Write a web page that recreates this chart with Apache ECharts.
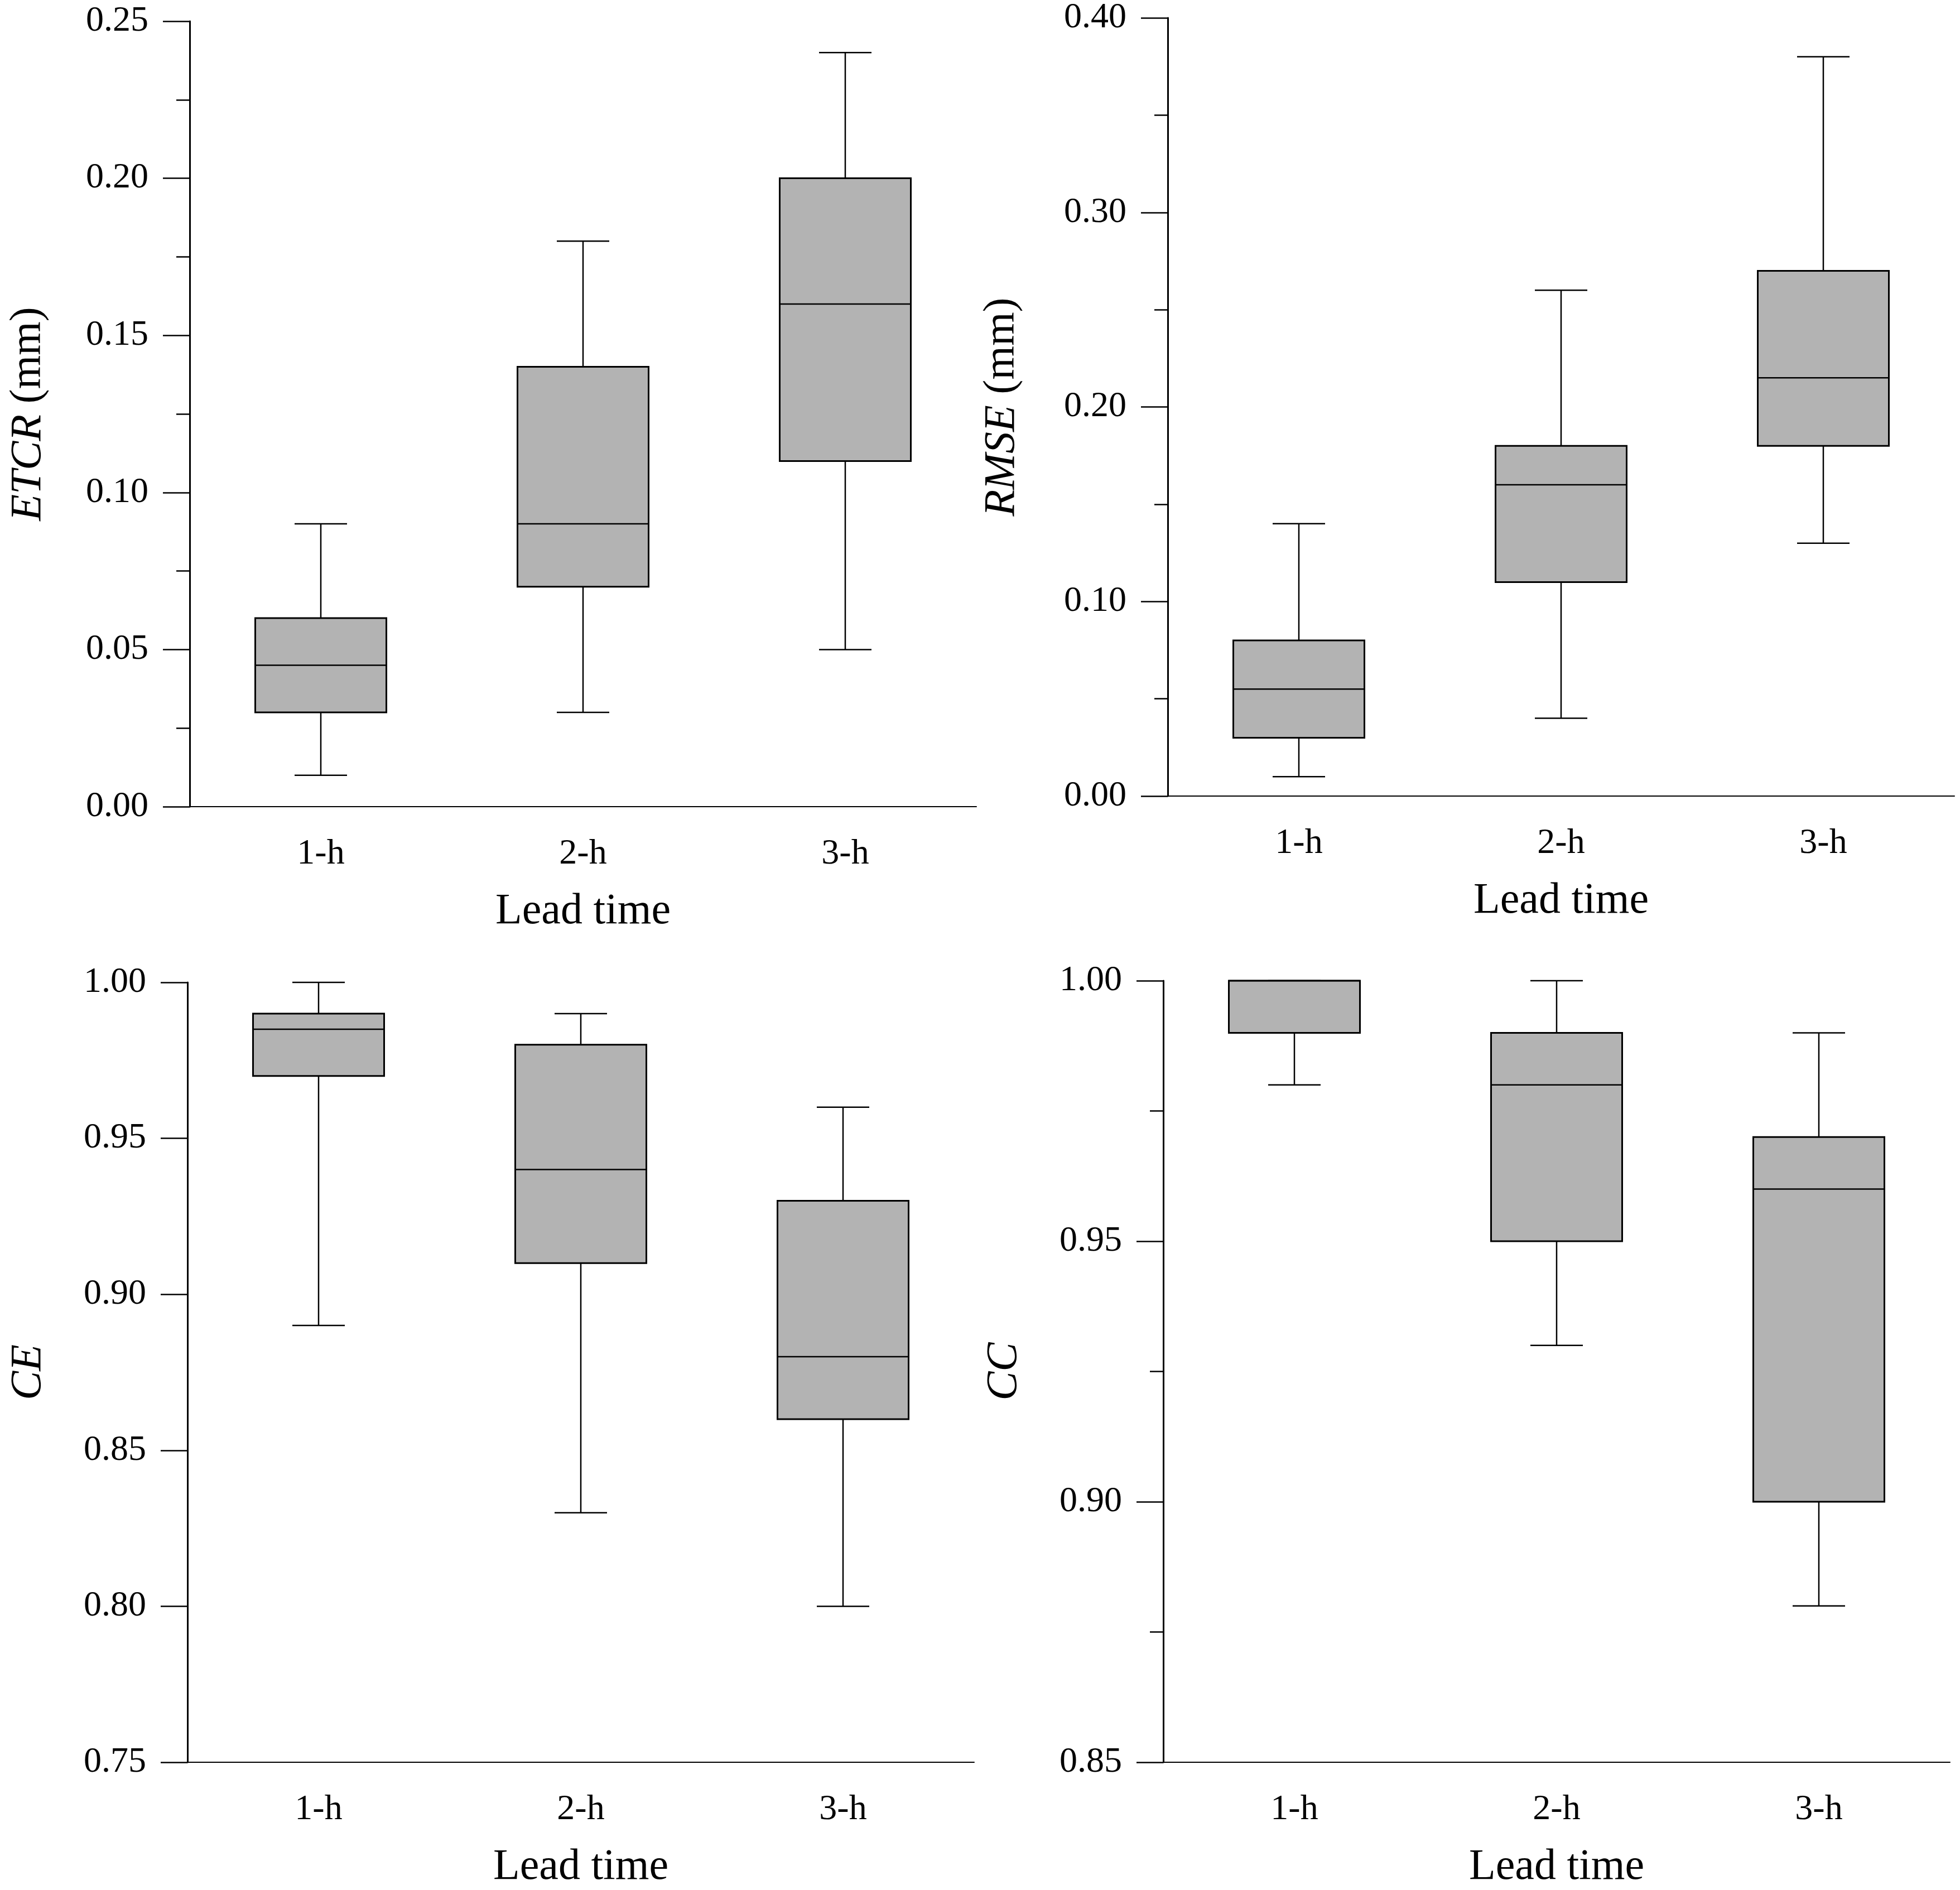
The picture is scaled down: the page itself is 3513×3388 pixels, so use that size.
<!DOCTYPE html>
<html lang="en">
<head>
    <meta charset="UTF-8">
    <title>Lead time box plots</title>
    <script type="text/javascript" src="https://cdn.jsdelivr.net/npm/echarts@6/dist/echarts.min.js"></script>
    <style>
        body { margin: 0; background: #fff; }
    </style>
</head>
<body>
<div id="main" style="width: 3513px;height:3388px;"></div>
<script>
    // categories
    var leadTimes = ['1-h', '2-h', '3-h'];

    // each row: [min, Q1, median, Q3, max]
    var etcrStats = [
        [0.01, 0.03, 0.045, 0.06, 0.09],
        [0.03, 0.07, 0.09, 0.14, 0.18],
        [0.05, 0.11, 0.16, 0.20, 0.24]
    ];
    var rmseStats = [
        [0.01, 0.03, 0.055, 0.08, 0.14],
        [0.04, 0.11, 0.16, 0.18, 0.26],
        [0.13, 0.18, 0.215, 0.27, 0.38]
    ];
    var ceStats = [
        [0.89, 0.97, 0.985, 0.99, 1.00],
        [0.83, 0.91, 0.94, 0.98, 0.99],
        [0.80, 0.86, 0.88, 0.93, 0.96]
    ];
    var ccStats = [
        [0.98, 0.99, 1.00, 1.00, 1.00],
        [0.93, 0.95, 0.98, 0.99, 1.00],
        [0.88, 0.90, 0.96, 0.97, 0.99]
    ];

    // y axis ranges [min, max, interval]
    var etcrRange = [0, 0.25, 0.05];
    var rmseRange = [0, 0.40, 0.10];
    var ceRange = [0.75, 1.00, 0.05];
    var ccRange = [0.85, 1.00, 0.05];

    var FONT = 'Liberation Serif';

    // draw one box with whiskers, using the axes' own coordinates
    function renderBox(params, api) {
        var xi = api.value(0);
        var lo = api.coord([xi, api.value(1)]);
        var q1 = api.coord([xi, api.value(2)]);
        var md = api.coord([xi, api.value(3)]);
        var q3 = api.coord([xi, api.value(4)]);
        var hi = api.coord([xi, api.value(5)]);
        var band = api.size([1, 0])[0];
        var bw = band * 0.5, cw = band * 0.2;
        var cx = lo[0];
        var wl = {stroke: '#000', lineWidth: 2.5};
        return {
            type: 'group',
            children: [
                {type: 'line', shape: {x1: cx, y1: hi[1], x2: cx, y2: q3[1]}, style: wl},
                {type: 'line', shape: {x1: cx, y1: q1[1], x2: cx, y2: lo[1]}, style: wl},
                {type: 'line', shape: {x1: cx - cw / 2, y1: hi[1], x2: cx + cw / 2, y2: hi[1]}, style: wl},
                {type: 'line', shape: {x1: cx - cw / 2, y1: lo[1], x2: cx + cw / 2, y2: lo[1]}, style: wl},
                {
                    type: 'rect',
                    shape: {x: cx - bw / 2, y: q3[1], width: bw, height: q1[1] - q3[1]},
                    style: {fill: '#b3b3b3', stroke: '#000', lineWidth: 3}
                },
                {type: 'line', shape: {x1: cx - bw / 2, y1: md[1], x2: cx + bw / 2, y2: md[1]}, style: wl}
            ]
        };
    }

    var grids = [
        {left: 340, top: 38, width: 1410, height: 1408},
        {left: 2093, top: 20, width: 1410, height: 1407},
        {left: 336, top: 1761, width: 1410, height: 1409},
        {left: 2085, top: 1758, width: 1410, height: 1408}
    ];
    var names = ['{i|ETCR} (mm)', '{i|RMSE} (mm)', '{i|CE}', '{i|CC}'];
    var ranges = [etcrRange, rmseRange, ceRange, ccRange];
    var stats = [etcrStats, rmseStats, ceStats, ccStats];
    var minor = [true, true, false, true];
    var nameGaps = [250, 258, 246, 246];

    var xAxes = [], yAxes = [], series = [];
    for (var g = 0; g < 4; g++) {
        xAxes.push({
            type: 'category',
            gridIndex: g,
            data: leadTimes,
            boundaryGap: true,
            name: 'Lead time',
            nameLocation: 'middle',
            nameGap: 150,
            nameTextStyle: {fontFamily: FONT, fontSize: 78, color: '#000'},
            axisLine: {lineStyle: {color: '#000', width: 2}},
            axisTick: {alignWithLabel: true, length: 47, lineStyle: {color: '#000', width: 1.5}},
            axisLabel: {margin: 53, fontFamily: FONT, fontSize: 64, color: '#000'},
            splitLine: {show: false}
        });
        yAxes.push({
            type: 'value',
            gridIndex: g,
            min: ranges[g][0],
            max: ranges[g][1],
            interval: ranges[g][2],
            name: names[g],
            nameLocation: 'middle',
            nameGap: nameGaps[g],
            nameTextStyle: {
                fontFamily: FONT, fontSize: 78, color: '#000',
                rich: {i: {fontFamily: FONT, fontSize: 78, fontStyle: 'italic', color: '#000'}}
            },
            axisLine: {show: true, lineStyle: {color: '#000', width: 3}},
            axisTick: {show: true, length: 48, lineStyle: {color: '#000', width: 2.5}},
            minorTick: {show: minor[g], splitNumber: 2, length: 24, lineStyle: {color: '#000', width: 2.5}},
            axisLabel: {
                margin: 74, fontFamily: FONT, fontSize: 64, color: '#000',
                formatter: function (v) { return v.toFixed(2); }
            },
            splitLine: {show: false}
        });
        series.push({
            type: 'custom',
            xAxisIndex: g,
            yAxisIndex: g,
            renderItem: renderBox,
            encode: {x: 0, y: [1, 2, 3, 4, 5]},
            data: stats[g].map(function (r, i) { return [i].concat(r); }),
            silent: true
        });
    }

    var option = {
        backgroundColor: '#fff',
        animation: false,
        grid: grids,
        xAxis: xAxes,
        yAxis: yAxes,
        series: series
    };

    var myChart = echarts.init(document.getElementById('main'));
    myChart.setOption(option);
</script>
</body>
</html>
